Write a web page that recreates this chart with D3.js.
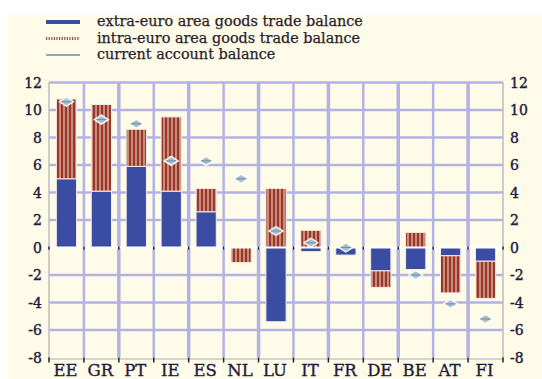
<!DOCTYPE html>
<html>
<head>
<meta charset="utf-8">
<script src="https://cdn.jsdelivr.net/npm/d3@7/dist/d3.min.js"></script>
<style>
  html, body { margin: 0; padding: 0; background: #ffffff; }
  svg { display: block; }
</style>
</head>
<body>
<svg id="chart" width="542" height="379"></svg>
<script>
// Euro area countries
const countries = ["EE", "GR", "PT", "IE", "ES", "NL", "LU", "IT", "FR", "DE", "BE", "AT", "FI"];
// extra-euro area goods trade balance (% of GDP)
const extraBalance = [5.0, 4.1, 5.9, 4.1, 2.6, 0.0, -5.4, -0.3, -0.55, -1.7, -1.6, -0.6, -1.0];
// intra-euro area goods trade balance (% of GDP)
const intraBalance = [5.8, 6.3, 2.7, 5.4, 1.7, -1.1, 4.3, 1.25, 0.05, -1.2, 1.1, -2.7, -2.7];
// current account balance (% of GDP); no marker for DE
const currentAccount = [10.6, 9.3, 9.0, 6.3, 6.3, 5.0, 1.2, 0.35, 0.0, null, -2.0, -4.1, -5.2];
// y-axis ticks
const yTicks = [-8, -6, -4, -2, 0, 2, 4, 6, 8, 10, 12];

const legendItems = [
  "extra-euro area goods trade balance",
  "intra-euro area goods trade balance",
  "current account balance"
];

(function draw() {
  const svg = d3.select("#chart");
  const W = 542, H = 379;
  const mLeft = 49, mRight = 503, mTop = 82.5, mBottom = 357.5;

  const BLUE = "#3a4da3";
  const GRID = "#b3b3e3";
  const TEXT = "#221a3a";
  const SERIF = "'DejaVu Serif', 'Liberation Serif', serif";

  // cream panel
  svg.append("rect").attr("x", 8).attr("y", 15).attr("width", W - 8).attr("height", H - 15)
    .attr("fill", "#fefce9");

  const defs = svg.append("defs");
  // vertical stripes for the intra-euro bars
  const pat = defs.append("pattern").attr("id", "stripes")
    .attr("patternUnits", "userSpaceOnUse").attr("width", 4).attr("height", 4);
  pat.append("rect").attr("width", 4).attr("height", 4).attr("fill", "#c98d7c");
  pat.append("rect").attr("x", 1).attr("width", 2).attr("height", 4).attr("fill", "#9a3529");

  const x = d3.scaleBand().domain(countries).range([mLeft, mRight]).padding(0);
  const y = d3.scaleLinear().domain([-8, 12]).range([mBottom, mTop]);

  // horizontal gridlines
  svg.append("g").selectAll("line").data(yTicks.filter(t => t !== 0 && t !== -8)).join("line")
    .attr("x1", mLeft).attr("x2", mRight)
    .attr("y1", d => y(d)).attr("y2", d => y(d))
    .attr("stroke", GRID).attr("stroke-width", 2.5);

  // vertical gridlines between countries
  const bounds = countries.slice(1).map(c => x(c));
  svg.append("g").selectAll("line").data(bounds).join("line")
    .attr("x1", d => d).attr("x2", d => d)
    .attr("y1", mTop).attr("y2", mBottom)
    .attr("stroke", GRID).attr("stroke-width", (d, i) => (i % 2 === 0 ? 2.5 : 3.5));

  // bottom axis line
  svg.append("line").attr("x1", mLeft).attr("x2", mRight)
    .attr("y1", mBottom + 1.5).attr("y2", mBottom + 1.5)
    .attr("stroke", "#d6d6d0").attr("stroke-width", 2);

  // side axes
  svg.append("line").attr("x1", mLeft).attr("x2", mLeft).attr("y1", mTop).attr("y2", mBottom + 2)
    .attr("stroke", "#bdbdbd").attr("stroke-width", 1.5);
  svg.append("line").attr("x1", mRight).attr("x2", mRight).attr("y1", mTop).attr("y2", mBottom + 2)
    .attr("stroke", "#bdbdbd").attr("stroke-width", 1.5);

  // stacked bars: positives upward from 0, negatives downward from 0
  const bw = x.bandwidth() * 0.58;
  const segs = [];
  countries.forEach((c, i) => {
    let pos = 0, neg = 0;
    [[extraBalance[i], "extra"], [intraBalance[i], "intra"]].forEach(([v, k]) => {
      let y0, y1;
      if (v >= 0) { y0 = pos; y1 = pos + v; pos = y1; }
      else { y0 = neg; y1 = neg + v; neg = y1; }
      segs.push({ c, k, y0, y1 });
    });
  });

  svg.append("g").selectAll("rect").data(segs.filter(s => s.y0 !== s.y1)).join("rect")
    .attr("x", d => x(d.c) + (x.bandwidth() - bw) / 2)
    .attr("width", bw)
    .attr("y", d => y(Math.max(d.y0, d.y1)))
    .attr("height", d => Math.abs(y(d.y0) - y(d.y1)))
    .attr("fill", d => d.k === "extra" ? BLUE : "url(#stripes)")
    .attr("stroke", "#f4efe6").attr("stroke-width", 1);

  // zero line with small ticks at the country boundaries
  svg.append("line").attr("x1", mLeft).attr("x2", mRight)
    .attr("y1", y(0)).attr("y2", y(0))
    .attr("stroke", "#ffffff").attr("stroke-width", 2);
  svg.append("g").selectAll("line").data([mLeft, ...bounds, mRight]).join("line")
    .attr("x1", d => d).attr("x2", d => d)
    .attr("y1", y(0) - 1).attr("y2", y(0) + 2)
    .attr("stroke", "#222").attr("stroke-width", 1.5);

  // bottom ticks
  svg.append("g").selectAll("line").data([mLeft, ...bounds, mRight]).join("line")
    .attr("x1", d => d).attr("x2", d => d)
    .attr("y1", mBottom).attr("y2", mBottom + 5)
    .attr("stroke", "#222").attr("stroke-width", 1.5);

  // current account markers
  const ca = countries.map((c, i) => ({ c, v: currentAccount[i] })).filter(d => d.v !== null);
  const mk = svg.append("g").selectAll("g").data(ca).join("g")
    .attr("transform", d => `translate(${x(d.c) + x.bandwidth() / 2},${y(d.v)})`);
  mk.append("path").attr("d", "M-7,0 L0,-4.5 L7,0 L0,4.5 Z")
    .attr("fill", "#a7c0cc").attr("stroke", "#ffffff").attr("stroke-width", 1.3);
  mk.append("line").attr("x1", -5).attr("x2", 5).attr("y1", 0).attr("y2", 0)
    .attr("stroke", "#6f8fa0").attr("stroke-width", 1);

  // y-axis labels, both sides
  const lab = svg.append("g").attr("font-family", SERIF).attr("font-size", 14)
    .attr("fill", TEXT).attr("stroke", TEXT).attr("stroke-width", 0.4);
  lab.selectAll("text.l").data(yTicks).join("text").attr("class", "l")
    .attr("x", 42).attr("y", d => y(d)).attr("dy", "0.36em")
    .attr("text-anchor", "end").text(d => d);
  lab.selectAll("text.r").data(yTicks).join("text").attr("class", "r")
    .attr("x", 510).attr("y", d => y(d)).attr("dy", "0.36em")
    .attr("text-anchor", "start").text(d => d);

  // country labels
  svg.append("g").selectAll("text").data(countries).join("text")
    .attr("x", d => x(d) + x.bandwidth() / 2 - 1)
    .attr("y", 376)
    .attr("text-anchor", "middle")
    .attr("font-family", SERIF).attr("font-size", 16.5)
    .attr("fill", TEXT).attr("stroke", TEXT).attr("stroke-width", 0.35)
    .text(d => d);

  // legend
  const lg = svg.append("g");
  const ly = [22, 38.5, 55];
  lg.append("line").attr("x1", 46).attr("x2", 80).attr("y1", ly[0]).attr("y2", ly[0])
    .attr("stroke", BLUE).attr("stroke-width", 4);
  lg.append("line").attr("x1", 46).attr("x2", 80).attr("y1", ly[1]).attr("y2", ly[1])
    .attr("stroke", "#a9473a").attr("stroke-width", 3).attr("stroke-dasharray", "1.2,1.4");
  lg.append("line").attr("x1", 46).attr("x2", 80).attr("y1", ly[2]).attr("y2", ly[2])
    .attr("stroke", "#8fa7b8").attr("stroke-width", 2);
  lg.selectAll("text").data(legendItems).join("text")
    .attr("x", 97).attr("y", (d, i) => ly[i]).attr("dy", "0.3em")
    .attr("font-family", SERIF).attr("font-size", 14.4)
    .attr("fill", "#2a1c2c").attr("stroke", "#2a1c2c").attr("stroke-width", 0.25)
    .text(d => d);
})();
</script>
</body>
</html>
